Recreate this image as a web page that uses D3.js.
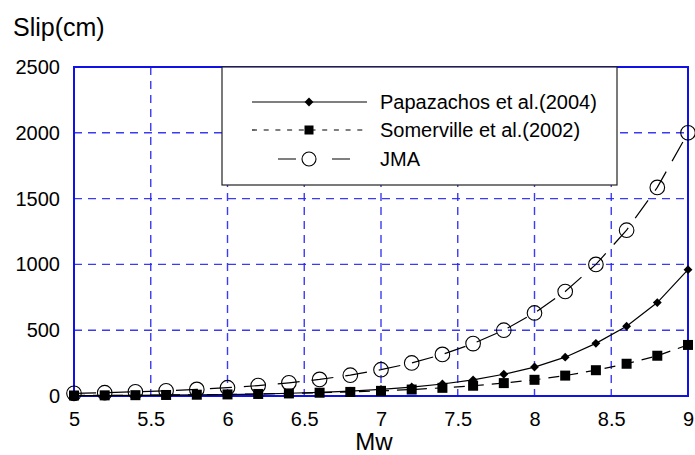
<!DOCTYPE html>
<html lang="en">
<head>
  <meta charset="UTF-8">
  <title>Slip vs Mw</title>
  <script src="https://d3js.org/d3.v7.min.js"></script>
  <style>
    body { margin: 0; background: #fff; }
    text { font-family: "Liberation Sans", Arial, sans-serif; fill: #000; }
  </style>
</head>
<body>
<div id="chart"></div>
<script>
  // data
  var mw = [5.0, 5.2, 5.4, 5.6, 5.8, 6.0, 6.2, 6.4, 6.6, 6.8, 7.0,
            7.2, 7.4, 7.6, 7.8, 8.0, 8.2, 8.4, 8.6, 8.8, 9.0];
  var papazachos = [2.5, 3.4, 4.6, 6.2, 8.4, 11, 15, 21, 28, 37, 50,
                    68, 91, 122, 165, 220, 295, 400, 530, 710, 960];
  var somerville = [3.9, 4.9, 6.2, 7.8, 9.8, 12, 15.5, 19.5, 25, 31, 39,
                    49, 62, 78, 98, 123, 155, 196, 245, 306, 388];
  var jma = [20, 25, 32, 40, 50, 63, 79, 100, 126, 158, 200,
             251, 316, 398, 500, 631, 794, 1000, 1260, 1585, 2000];
  var xTicks = [5, 5.5, 6, 6.5, 7, 7.5, 8, 8.5, 9];
  var yTicks = [0, 500, 1000, 1500, 2000, 2500];
  var seriesNames = ["Papazachos et al.(2004)", "Somerville et al.(2002)", "JMA"];

  var width = 695, height = 455;
  var plotLeft = 74, plotRight = 688, plotTop = 67, plotBottom = 396;

  var svg = d3.select("#chart").append("svg")
    .attr("width", width)
    .attr("height", height);

  var x = d3.scaleLinear().domain([5, 9]).range([plotLeft, plotRight]);
  var y = d3.scaleLinear().domain([0, 2500]).range([plotBottom, plotTop]);

  // grid lines (dashed blue)
  var grid = svg.append("g");
  grid.selectAll(".vg").data(xTicks.slice(1, -1)).enter().append("line")
    .attr("x1", function(d) { return x(d); })
    .attr("x2", function(d) { return x(d); })
    .attr("y1", plotTop).attr("y2", plotBottom)
    .attr("stroke", "#2626f2").attr("stroke-opacity", 0.9)
    .attr("stroke-width", 1.4).attr("stroke-dasharray", "8,6");
  grid.selectAll(".hg").data(yTicks.slice(1, -1)).enter().append("line")
    .attr("x1", plotLeft).attr("x2", plotRight)
    .attr("y1", function(d) { return y(d); })
    .attr("y2", function(d) { return y(d); })
    .attr("stroke", "#2626f2").attr("stroke-opacity", 0.9)
    .attr("stroke-width", 1.4).attr("stroke-dasharray", "8,6");

  // frame
  svg.append("rect")
    .attr("x", plotLeft).attr("y", plotTop)
    .attr("width", plotRight - plotLeft).attr("height", plotBottom - plotTop)
    .attr("fill", "none").attr("stroke", "#1010e8").attr("stroke-width", 2);

  // axes labels (no tick marks)
  var xAxis = svg.append("g")
    .attr("transform", "translate(0," + plotBottom + ")")
    .call(d3.axisBottom(x).tickValues(xTicks).tickSize(0).tickPadding(16)
      .tickFormat(function(d) { return String(d); }));
  xAxis.select(".domain").remove();
  xAxis.selectAll("text").style("font-size", "20px")
    .style("font-family", "Liberation Sans, Arial, sans-serif").attr("fill", "#000");

  var yAxis = svg.append("g")
    .attr("transform", "translate(" + plotLeft + ",0)")
    .call(d3.axisLeft(y).tickValues(yTicks).tickSize(0).tickPadding(14)
      .tickFormat(d3.format("d")));
  yAxis.select(".domain").remove();
  yAxis.selectAll("text").style("font-size", "20px")
    .style("font-family", "Liberation Sans, Arial, sans-serif").attr("fill", "#000");

  svg.append("text").attr("x", 13).attr("y", 36)
    .style("font-size", "25px").text("Slip(cm)");
  svg.append("text").attr("x", 374).attr("y", 450)
    .attr("text-anchor", "middle").style("font-size", "24px").text("Mw");

  var line = d3.line()
    .x(function(d) { return x(d[0]); })
    .y(function(d) { return y(d[1]); });

  function pairs(vals) { return mw.map(function(m, i) { return [m, vals[i]]; }); }

  var plot = svg.append("g");

  // Papazachos: solid with diamonds
  plot.append("path").datum(pairs(papazachos))
    .attr("fill", "none").attr("stroke", "#000").attr("stroke-width", 1.2)
    .attr("d", line);
  // Somerville: dashed with squares
  plot.append("path").datum(pairs(somerville))
    .attr("fill", "none").attr("stroke", "#000").attr("stroke-width", 1.2)
    .attr("stroke-dasharray", "11,8").attr("d", line);
  // JMA: long dashes with open circles
  plot.append("path").datum(pairs(jma))
    .attr("fill", "none").attr("stroke", "#000").attr("stroke-width", 1.2)
    .attr("stroke-dasharray", "22,12").attr("d", line);

  var diamond = d3.symbol().type(d3.symbolDiamond2).size(50);
  plot.selectAll(".pap").data(pairs(papazachos)).enter().append("path")
    .attr("transform", function(d) { return "translate(" + x(d[0]) + "," + y(d[1]) + ")"; })
    .attr("d", diamond).attr("fill", "#000");
  plot.selectAll(".som").data(pairs(somerville)).enter().append("rect")
    .attr("x", function(d) { return x(d[0]) - 5; })
    .attr("y", function(d) { return y(d[1]) - 5; })
    .attr("width", 10).attr("height", 10).attr("fill", "#000");
  plot.selectAll(".jma").data(pairs(jma)).enter().append("circle")
    .attr("cx", function(d) { return x(d[0]); })
    .attr("cy", function(d) { return y(d[1]); })
    .attr("r", 7.3).attr("fill", "none").attr("stroke", "#000").attr("stroke-width", 1.1);

  // legend
  var legend = svg.append("g");
  legend.append("rect")
    .attr("x", 222).attr("y", 67).attr("width", 395).attr("height", 118)
    .attr("fill", "#fff").attr("stroke", "#222").attr("stroke-width", 1.2);

  var rowY = [102, 130, 159];
  var dashes = [null, "5,6.7", "18,36"];
  var offsets = [0, 0, -26];
  seriesNames.forEach(function(name, i) {
    var g = legend.append("g").attr("transform", "translate(0," + rowY[i] + ")");
    var ln = g.append("line").attr("x1", 252).attr("x2", 367)
      .attr("stroke", "#000").attr("stroke-width", 1.2);
    if (dashes[i]) ln.attr("stroke-dasharray", dashes[i]).attr("stroke-dashoffset", offsets[i]);
    if (i === 0) {
      g.append("path").attr("transform", "translate(309,0)").attr("d", diamond).attr("fill", "#000");
    } else if (i === 1) {
      g.append("rect").attr("x", 304.5).attr("y", -4.5).attr("width", 9).attr("height", 9).attr("fill", "#000");
    } else {
      g.append("circle").attr("cx", 309).attr("cy", 0).attr("r", 7)
        .attr("fill", "#fff").attr("stroke", "#000").attr("stroke-width", 1.1);
    }
    g.append("text").attr("x", 380).attr("y", 0).attr("dy", "0.35em")
      .style("font-size", "20px").text(name);
  });
</script>
</body>
</html>
